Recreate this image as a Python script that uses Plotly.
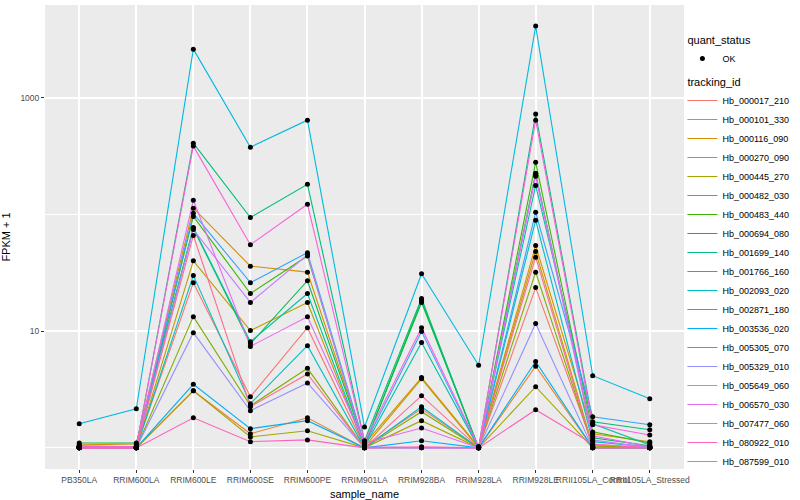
import plotly.graph_objects as go

samples = ["PB350LA", "RRIM600LA", "RRIM600LE", "RRIM600SE", "RRIM600PE", "RRIM901LA",
           "RRIM928BA", "RRIM928LA", "RRIM928LE", "RRII105LA_Control", "RRII105LA_Stressed"]

tracking_ids = ["Hb_000017_210", "Hb_000101_330", "Hb_000116_090", "Hb_000270_090", "Hb_000445_270",
                "Hb_000482_030", "Hb_000483_440", "Hb_000694_080", "Hb_001699_140", "Hb_001766_160",
                "Hb_002093_020", "Hb_002871_180", "Hb_003536_020", "Hb_005305_070", "Hb_005329_010",
                "Hb_005649_060", "Hb_006570_030", "Hb_007477_060", "Hb_080922_010", "Hb_087599_010"]

colors = ["#F8766D", "#EA8331", "#D89000", "#C09B00", "#A3A500", "#7CAE00", "#39B600", "#00BB4E",
          "#00BF7D", "#00C1A3", "#00BFC4", "#00BAE0", "#00B0F6", "#35A2FF", "#9590FF", "#C77CFF",
          "#E76BF3", "#FA62DB", "#FF62BC", "#FF6C91"]

# FPKM + 1 per tracking id, in sample order
Hb_000017_210 = [1.04, 1.02, 26, 2.74, 10.7, 1.02, 2.16, 1.0, 23.6, 1.06, 1.0]
Hb_000101_330 = [1.02, 1.0, 3.08, 1.32, 1.81, 1.0, 1.0, 1.0, 5.0, 1.0, 1.0]
Hb_000116_090 = [1.06, 1.08, 113, 36, 32, 1.08, 4.0, 1.02, 54, 1.32, 1.13]
Hb_000270_090 = [1.0, 1.0, 40, 10.1, 17.6, 1.02, 3.9, 1.0, 48, 1.04, 1.0]
Hb_000445_270 = [1.0, 1.0, 3.08, 1.24, 1.40, 1.0, 1.71, 1.0, 3.34, 1.0, 1.0]
Hb_000482_030 = [1.0, 1.0, 13.3, 2.29, 4.8, 1.0, 2.04, 1.0, 32, 1.02, 1.0]
Hb_000483_440 = [1.02, 1.02, 96, 21, 44, 1.04, 18.3, 1.0, 279, 1.37, 1.10]
Hb_000694_080 = [1.10, 1.10, 76, 7.8, 27, 1.06, 17.6, 1.0, 225, 1.22, 1.04]
Hb_001699_140 = [1.02, 1.02, 407, 94, 181, 1.15, 19, 1.0, 722, 1.67, 1.43]
Hb_001766_160 = [1.0, 1.0, 77, 8.1, 21, 1.02, 8.0, 1.0, 177, 1.61, 1.06]
Hb_002093_020 = [1.0, 1.0, 30, 2.39, 7.5, 1.0, 2.25, 1.0, 89, 1.13, 1.02]
Hb_002871_180 = [1.61, 2.16, 2600, 376, 641, 1.51, 31, 5.1, 4100, 4.15, 2.63]
Hb_003536_020 = [1.0, 1.0, 3.5, 1.46, 1.71, 1.0, 1.15, 1.0, 5.5, 1.0, 1.0]
Hb_005305_070 = [1.0, 1.02, 102, 26, 47, 1.06, 9.9, 1.0, 104, 1.85, 1.58]
Hb_005329_010 = [1.0, 1.0, 9.7, 2.08, 3.6, 1.0, 1.0, 1.0, 11.6, 1.0, 1.0]
Hb_005649_060 = [1.0, 1.0, 74, 17.6, 45, 1.02, 1.0, 1.0, 212, 1.17, 1.0]
Hb_006570_030 = [1.02, 1.02, 132, 7.4, 13.3, 1.10, 1.48, 1.0, 216, 1.27, 1.02]
Hb_007477_060 = [1.02, 1.02, 384, 55, 122, 1.13, 10.7, 1.02, 641, 1.58, 1.29]
Hb_080922_010 = [1.0, 1.0, 1.81, 1.13, 1.17, 1.0, 1.02, 1.0, 2.12, 1.08, 1.0]
Hb_087599_010 = [1.0, 1.0, 66, 2.25, 4.3, 1.0, 2.8, 1.0, 43, 1.0, 1.0]

series = [Hb_000017_210, Hb_000101_330, Hb_000116_090, Hb_000270_090, Hb_000445_270,
          Hb_000482_030, Hb_000483_440, Hb_000694_080, Hb_001699_140, Hb_001766_160,
          Hb_002093_020, Hb_002871_180, Hb_003536_020, Hb_005305_070, Hb_005329_010,
          Hb_005649_060, Hb_006570_030, Hb_007477_060, Hb_080922_010, Hb_087599_010]

y_tick_vals = [10, 1000]
y_tick_text = ["10", "1000"]
y_minor_vals = [1, 100]

FONT = "Liberation Sans, Arial, sans-serif"

fig = go.Figure()
for i, (tid, vals, col) in enumerate(zip(tracking_ids, series, colors)):
    fig.add_trace(go.Scatter(
        x=samples, y=vals, mode="lines", name=tid,
        line=dict(color=col, width=1.1),
        legendgroup="tracking",
        legendgrouptitle=dict(text="tracking_id", font=dict(size=11, color="#000000")) if i == 0 else None,
        legendrank=10 + i, hoverinfo="skip",
    ))

all_x = [s for _ in series for s in samples]
all_y = [v for vals in series for v in vals]
fig.add_trace(go.Scatter(
    x=all_x, y=all_y, mode="markers", name="OK",
    marker=dict(color="#000000", size=5),
    legendgroup="quant",
    legendgrouptitle=dict(text="quant_status", font=dict(size=11, color="#000000")),
    legendrank=1,
))

fig.update_layout(
    width=800, height=500,
    margin=dict(l=45, r=116, t=5, b=31, autoexpand=False),
    paper_bgcolor="#FFFFFF", plot_bgcolor="#EBEBEB",
    font=dict(family=FONT, size=9, color="#000000"),
    showlegend=True,
    legend=dict(
        xref="container", yref="container", x=0.853, y=0.95,
        xanchor="left", yanchor="top",
        traceorder="grouped", tracegroupgap=4,
        font=dict(size=9, color="#000000"),
        bgcolor="rgba(255,255,255,0)", itemwidth=30,
        maxheight=1.0,
    ),
    xaxis=dict(
        type="category", range=[-0.6, 10.6], automargin=False,
        showgrid=True, gridcolor="#FFFFFF", gridwidth=1.5,
        ticks="outside", ticklen=3, tickcolor="#333333", tickwidth=1,
        tickfont=dict(size=8.5, color="#4D4D4D", family=FONT),
        tickangle=0,
        title=dict(text="sample_name", font=dict(size=11, color="#000000", family=FONT)),
        zeroline=False, showline=False,
    ),
    yaxis=dict(
        type="log", range=[-0.181, 3.793], automargin=False,
        tickvals=y_tick_vals, ticktext=y_tick_text,
        showgrid=True, gridcolor="#FFFFFF", gridwidth=1.5,
        minor=dict(tickvals=y_minor_vals, showgrid=True, gridcolor="#FFFFFF", gridwidth=0.8, ticks=""),
        ticks="outside", ticklen=3, tickcolor="#333333", tickwidth=1,
        tickfont=dict(size=8.5, color="#4D4D4D", family=FONT),
        title=dict(text="FPKM + 1", font=dict(size=11, color="#000000", family=FONT)),
        zeroline=False, showline=False,
    ),
)

fig.write_html("out.html", config={"displayModeBar": False},
               post_script="document.body.style.margin='0px';")
